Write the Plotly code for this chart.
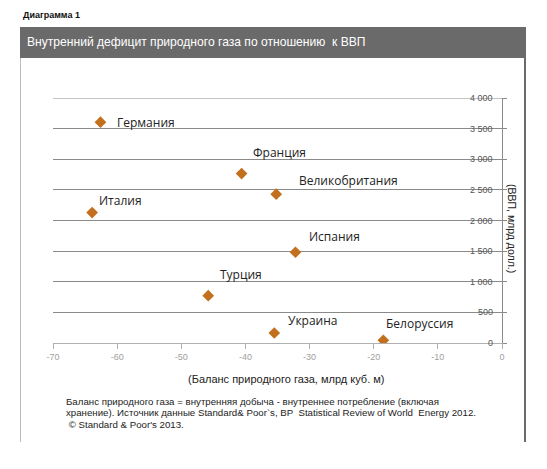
import plotly.graph_objects as go

# данные: баланс природного газа (млрд куб. м) и ВВП (млрд долл.)
countries = ['Германия', 'Франция', 'Великобритания', 'Италия',
             'Испания', 'Турция', 'Украина', 'Белоруссия']
gas_balance = [-62.6, -40.6, -35.2, -63.9, -32.2, -45.8, -35.5, -18.5]
gdp = [3606, 2766, 2430, 2129, 1482, 773, 163, 44]

x_ticks = [-70, -60, -50, -40, -30, -20, -10, 0]
x_ticktext = ['-70', '-60', '-50', '-40', '-30', '-20', '-10', '0']
y_ticks = [0, 500, 1000, 1500, 2000, 2500, 3000, 3500, 4000]
y_ticktext = ['0', '500', '1 000', '1 500', '2 000', '2 500', '3 000', '3 500', '4 000']

# смещения подписей точек (px) - только позиция
label_shift = {
    'Германия': (15, 0),
    'Франция': (9, 21),
    'Великобритания': (21, 14),
    'Италия': (5, 12),
    'Испания': (12, 16),
    'Турция': (10, 21),
    'Украина': (12, 13),
    'Белоруссия': (1, 17),
}

OFF = 8  # отступ body в браузере
W, H = 547 - 2 * OFF, 469 - 2 * OFF
L, T = 53 - OFF, 98 - OFF
R = W - (502 - OFF)
B = H - (343 - OFF)


def px_x(px):
    return (px - OFF - L) / (W - L - R)


def px_y(py):
    return 1 - (py - OFF - T) / (H - T - B)


fig = go.Figure()
fig.add_trace(go.Scatter(
    x=gas_balance, y=gdp, mode='markers',
    marker=dict(symbol='diamond', size=9, color='#c2701d'),
    hoverinfo='text', text=countries, showlegend=False))

annotations = []
for c, xv, yv in zip(countries, gas_balance, gdp):
    dx, dy = label_shift[c]
    annotations.append(dict(
        x=xv, y=yv, xref='x', yref='y', text=c, showarrow=False,
        xanchor='left', yanchor='middle', xshift=dx, yshift=dy,
        font=dict(family='Open Sans', size=12, color='#222222')))

# подписи оси Y внутри области графика
for v, t in zip(y_ticks, y_ticktext):
    annotations.append(dict(
        x=0, y=v, xref='x', yref='y', text=t, showarrow=False,
        xanchor='right', yanchor='middle', xshift=-7,
        font=dict(family='Arial', size=9, color='#555555')))

# заголовки и сноски
annotations.append(dict(
    x=px_x(21), y=px_y(15), xref='paper', yref='paper', text='<b>Диаграмма 1</b>',
    showarrow=False, xanchor='left', yanchor='middle',
    font=dict(family='Arial', size=9, color='#111111')))
annotations.append(dict(
    x=px_x(25), y=px_y(42), xref='paper', yref='paper',
    text='Внутренний дефицит природного газа по отношению  к ВВП',
    showarrow=False, xanchor='left', yanchor='middle',
    font=dict(family='Arial', size=12.1, color='#ffffff')))
annotations.append(dict(
    x=px_x(286), y=px_y(379), xref='paper', yref='paper',
    text='(Баланс природного газа, млрд куб. м)',
    showarrow=False, xanchor='center', yanchor='middle',
    font=dict(family='Arial', size=11, color='#222222')))
annotations.append(dict(
    x=px_x(512), y=px_y(228), xref='paper', yref='paper',
    text='(ВВП, млрд долл.)', textangle=90,
    showarrow=False, xanchor='center', yanchor='middle',
    font=dict(family='Arial', size=10.5, color='#222222')))

footnote = [
    'Баланс природного газа = внутренняя добыча - внутреннее потребление (включая',
    'хранение). Источник данные Standard& Poor`s, BP  Statistical Review of World  Energy 2012.',
    ' © Standard & Poor\'s 2013.',
]
for i, line in enumerate(footnote):
    annotations.append(dict(
        x=px_x(64), y=px_y(401 + 11.5 * i), xref='paper', yref='paper',
        text=line, showarrow=False, xanchor='left', yanchor='middle',
        font=dict(family='Arial', size=9.7, color='#222222')))

shapes = [
    dict(type='rect', xref='paper', yref='paper',
         x0=px_x(20), x1=px_x(526), y0=px_y(58), y1=px_y(27),
         fillcolor='#6a6a6a', line=dict(width=0), layer='below'),
    dict(type='line', xref='paper', yref='paper',
         x0=px_x(20.5), x1=px_x(20.5), y0=px_y(58), y1=px_y(442),
         line=dict(color='#bdbdbd', width=1)),
    dict(type='line', xref='paper', yref='paper',
         x0=px_x(525), x1=px_x(525), y0=px_y(58), y1=px_y(442),
         line=dict(color='#6a6a6a', width=2)),
    # верхняя линия сетки (plotly не рисует её на краю области)
    dict(type='line', xref='x domain', yref='y',
         x0=0, x1=1, y0=y_ticks[-1], y1=y_ticks[-1],
         line=dict(color='#8a8a8a', width=1), layer='below'),
]

fig.update_layout(
    width=W, height=H,
    margin=dict(l=L, r=R, t=T, b=B),
    paper_bgcolor='white', plot_bgcolor='white',
    annotations=annotations, shapes=shapes,
    xaxis=dict(range=[-70, 0], tickvals=x_ticks, ticktext=x_ticktext,
               showgrid=False, zeroline=False, showline=True,
               linecolor='#b0b0b0', linewidth=1,
               ticks='outside', ticklen=5, tickcolor='#b0b0b0',
               tickfont=dict(family='Arial', size=9, color='#a0a0a0'),
               automargin=False),
    yaxis=dict(range=[0, 4000], tickvals=y_ticks, showticklabels=False,
               side='right',
               showgrid=True, gridcolor='#8a8a8a', gridwidth=1,
               zeroline=False, showline=True, linecolor='#8a8a8a', linewidth=1,
               ticks='outside', ticklen=4, tickcolor='#8a8a8a',
               automargin=False),
)

fig.write_html("out.html")
